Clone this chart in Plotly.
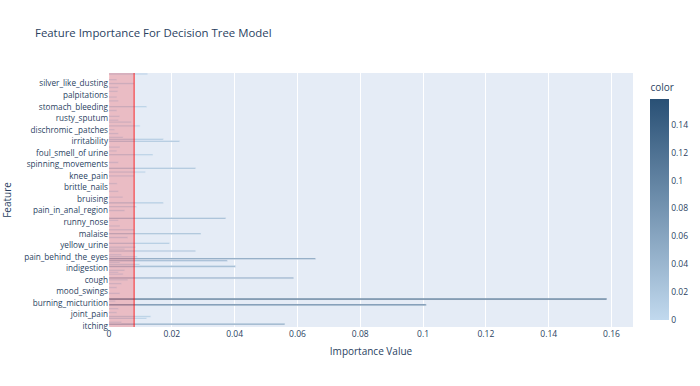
import plotly.graph_objects as go

FEATURES = [
    "itching", "skin_rash", "nodal_skin_eruptions", "continuous_sneezing", "shivering", "chills",
    "joint_pain", "stomach_pain", "acidity", "ulcers_on_tongue", "muscle_wasting", "vomiting",
    "burning_micturition", "spotting_ urination", "fatigue", "weight_gain", "anxiety",
    "cold_hands_and_feets", "mood_swings", "weight_loss", "restlessness", "lethargy",
    "patches_in_throat", "irregular_sugar_level", "cough", "high_fever", "sunken_eyes",
    "breathlessness", "sweating", "dehydration", "indigestion", "headache", "yellowish_skin",
    "dark_urine", "nausea", "loss_of_appetite", "pain_behind_the_eyes", "back_pain",
    "constipation", "abdominal_pain", "diarrhoea", "mild_fever", "yellow_urine",
    "yellowing_of_eyes", "acute_liver_failure", "fluid_overload", "swelling_of_stomach",
    "swelled_lymph_nodes", "malaise", "blurred_and_distorted_vision", "phlegm",
    "throat_irritation", "redness_of_eyes", "sinus_pressure", "runny_nose", "congestion",
    "chest_pain", "weakness_in_limbs", "fast_heart_rate", "pain_during_bowel_movements",
    "pain_in_anal_region", "bloody_stool", "irritation_in_anus", "neck_pain", "dizziness",
    "cramps", "bruising", "obesity", "swollen_legs", "swollen_blood_vessels",
    "puffy_face_and_eyes", "enlarged_thyroid", "brittle_nails", "swollen_extremeties",
    "excessive_hunger", "extra_marital_contacts", "drying_and_tingling_lips", "slurred_speech",
    "knee_pain", "hip_joint_pain", "muscle_weakness", "stiff_neck", "swelling_joints",
    "movement_stiffness", "spinning_movements", "loss_of_balance", "unsteadiness",
    "weakness_of_one_body_side", "loss_of_smell", "bladder_discomfort", "foul_smell_of urine",
    "continuous_feel_of_urine", "passage_of_gases", "internal_itching", "toxic_look_(typhos)",
    "depression", "irritability", "muscle_pain", "altered_sensorium", "red_spots_over_body",
    "belly_pain", "abnormal_menstruation", "dischromic _patches", "watering_from_eyes",
    "increased_appetite", "polyuria", "family_history", "mucoid_sputum", "rusty_sputum",
    "lack_of_concentration", "visual_disturbances", "receiving_blood_transfusion",
    "receiving_unsterile_injections", "coma", "stomach_bleeding", "distention_of_abdomen",
    "history_of_alcohol_consumption", "fluid_overload.1", "blood_in_sputum",
    "prominent_veins_on_calf", "palpitations", "painful_walking", "pus_filled_pimples",
    "blackheads", "scurring", "skin_peeling", "silver_like_dusting", "small_dents_in_nails",
    "inflammatory_nails", "blister", "red_sore_around_nose", "yellow_crust_ooze",
]

# importance values (index -> value), others zero
IMPORTANCE_READ = {
    1: 0.0560, 2: 0.0040, 4: 0.0120, 5: 0.0133, 7: 0.0025, 9: 0.0030, 11: 0.1010,
    13: 0.0020, 14: 0.1585, 17: 0.0035, 20: 0.0025, 22: 0.0040, 24: 0.0060, 25: 0.0588,
    27: 0.0045, 28: 0.0030, 29: 0.0050, 31: 0.0403, 32: 0.0098, 33: 0.0035, 34: 0.0377,
    35: 0.0658, 36: 0.0090, 37: 0.0040, 39: 0.0276, 40: 0.0050, 41: 0.0085, 43: 0.0193,
    46: 0.0060, 48: 0.0293, 50: 0.0080, 52: 0.0035, 55: 0.0030, 56: 0.0372, 60: 0.0050,
    62: 0.0088, 64: 0.0173, 67: 0.0044, 70: 0.0030, 74: 0.0026, 78: 0.0080, 80: 0.0116,
    82: 0.0276, 85: 0.0030, 89: 0.0140, 91: 0.0025, 93: 0.0035, 96: 0.0225, 97: 0.0173,
    98: 0.0045, 100: 0.0030, 102: 0.0018, 104: 0.0099, 106: 0.0071, 107: 0.0030,
    109: 0.0034, 112: 0.0025, 114: 0.0120, 117: 0.0030, 119: 0.0025, 122: 0.0028,
    124: 0.0030, 126: 0.0080, 128: 0.0025, 131: 0.0123,
}
IMPORTANCE = [IMPORTANCE_READ.get(i, 0.0) for i in range(len(FEATURES))]

Y_TICKS = FEATURES[::6]
X_TICKS = [0, 0.02, 0.04, 0.06, 0.08, 0.1, 0.12, 0.14, 0.16]
CBAR_TICKS = [0, 0.02, 0.04, 0.06, 0.08, 0.1, 0.12, 0.14]
THRESHOLD = 0.008

W, H = 700, 386

fig = go.Figure(go.Bar(
    x=IMPORTANCE, y=FEATURES, orientation="h",
    marker=dict(
        color=IMPORTANCE,
        colorscale=[[0, "rgb(193,217,238)"], [1, "rgb(41,80,117)"]],
        colorbar=dict(
            title=dict(text="color", font=dict(size=10, color="#2a3f5f")),
            thickness=19, xpad=7, ypad=7, outlinewidth=0,
            tickvals=CBAR_TICKS, ticktext=[f"{v:g}" for v in CBAR_TICKS],
            tickfont=dict(size=8.5, color="#2a3f5f"),
        ),
    ),
))

fig.add_vrect(x0=0, x1=THRESHOLD, fillcolor="red", opacity=0.2, line_width=0, layer="above")
fig.add_vline(x=THRESHOLD, line_color="red", line_width=1, opacity=0.8)

fig.update_layout(
    template="plotly",
    width=W, height=H,
    margin=dict(l=109, r=67, t=73, b=59, autoexpand=False),
    font=dict(family="Open Sans", size=9, color="#2a3f5f"),
    title=dict(text="Feature Importance For Decision Tree Model", x=35 / W, xanchor="left",
               y=1 - 33 / H, yref="container", yanchor="middle",
               font=dict(size=11.4, color="#2a3f5f")),
    xaxis=dict(title=dict(text="Importance Value", font=dict(size=10), standoff=10),
               tickvals=X_TICKS, ticktext=[f"{v:g}" for v in X_TICKS],
               tickfont=dict(size=8.5), automargin=False, zeroline=True),
    yaxis=dict(title=dict(text="Feature", font=dict(size=10)),
               tickmode="array", tickvals=Y_TICKS, ticktext=Y_TICKS,
               tickfont=dict(size=8.2), automargin=False),
    bargap=0.2,
    showlegend=False,
)

fig.write_html("out.html", config={"displayModeBar": False},
               post_script="document.body.style.margin='0px';")
